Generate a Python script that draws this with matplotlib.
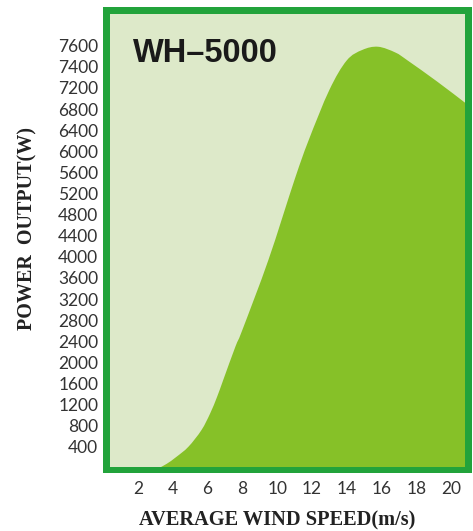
import matplotlib
matplotlib.use("Agg")
import matplotlib.pyplot as plt
from matplotlib.patches import Rectangle, PathPatch
from matplotlib.path import Path

# Data (wind speed m/s, power on the chart's grid in W)
wind_speed = [3.2, 3.65, 4.2, 4.9, 5.65, 6.15, 6.55, 6.9, 7.6, 8.0, 9.5,
              11.0, 11.8, 13.0, 14.0, 14.9, 15.8, 16.8, 17.5, 19.2, 20.8]
power_out = [0, 80, 210, 404, 720, 1036, 1352, 1668, 2300, 2616, 3944,
             5460, 6200, 7160, 7720, 7920, 7980, 7870, 7720, 7320, 6920]

x_ticks = [2, 4, 6, 8, 10, 12, 14, 16, 18, 20]
y_tick_labels = ["400", "800", "1200", "1600", "2000", "2400", "2800", "3200",
                 "3600", "4000", "4400", "4800", "5200", "5600", "6000",
                 "6400", "6800", "7200", "7400", "7600"]
title = "WH\u20135000"

W, H = 473, 531
fig = plt.figure(figsize=(W / 100, H / 100), dpi=100)
fig.patch.set_facecolor("white")

border_c = "#22a33b"
bg_c = "#dde9c9"
fill_c = "#86c128"

# outer green frame (behind the axes)
fig.patches.append(Rectangle((103 / W, 1 - 473 / H), (472 - 103) / W, (473 - 7) / H,
                             transform=fig.transFigure, facecolor=border_c,
                             edgecolor="none", zorder=-5))

ax = fig.add_axes([110 / W, 1 - 467 / H, 355 / W, 453 / H])
ax.set_zorder(2)
ax.set_facecolor(bg_c)

# smooth area: Catmull-Rom curve through the read points, drawn as Bezier path
pts = list(zip(wind_speed, power_out))
n = len(pts)
verts = [(wind_speed[0], 0.0), pts[0]]
codes = [Path.MOVETO, Path.LINETO]
for i in range(n - 1):
    p0 = pts[max(i - 1, 0)]
    p1 = pts[i]
    p2 = pts[i + 1]
    p3 = pts[min(i + 2, n - 1)]
    c1 = (p1[0] + (p2[0] - p0[0]) / 6, p1[1] + (p2[1] - p0[1]) / 6)
    c2 = (p2[0] - (p3[0] - p1[0]) / 6, p2[1] - (p3[1] - p1[1]) / 6)
    verts += [c1, c2, p2]
    codes += [Path.CURVE4] * 3
verts += [(wind_speed[-1], 0.0), (wind_speed[0], 0.0)]
codes += [Path.LINETO, Path.CLOSEPOLY]
ax.add_patch(PathPatch(Path(verts, codes), facecolor=fill_c, edgecolor="none"))

ax.set_xlim(0.39, 20.8)
ax.set_ylim(20, 8600)

ax.set_xticks(x_ticks)
ax.set_xticklabels([str(v) for v in x_ticks])
ytick_pos = [400 * (i + 1) for i in range(len(y_tick_labels))]
ax.set_yticks(ytick_pos)
ax.set_yticklabels(y_tick_labels)
for s in ax.spines.values():
    s.set_visible(False)
ax.tick_params(axis="both", length=0, labelsize=12.5, labelcolor="#333333")
ax.tick_params(axis="y", pad=8.5)
ax.tick_params(axis="x", pad=10)
for lbl in ax.get_xticklabels() + ax.get_yticklabels():
    lbl.set_fontfamily("Lato")

fig.text(133 / W, 1 - 54 / H, title, fontsize=23.5, fontweight="bold",
         family="Liberation Sans", color="#1a1a1a", va="center", ha="left",
         zorder=10)

fig.text(27 / W, 1 - 228 / H, "POWER  OUTPUT(W)", rotation=90, fontsize=14.5,
         fontweight="bold", family="Liberation Serif", color="#222222",
         ha="center", va="center")
fig.text(277 / W, 1 - 520 / H, "AVERAGE WIND SPEED(m/s)", fontsize=14.7,
         fontweight="bold", family="Liberation Serif", color="#222222",
         ha="center", va="center")

fig.savefig("out.png", dpi=100, facecolor="white")
